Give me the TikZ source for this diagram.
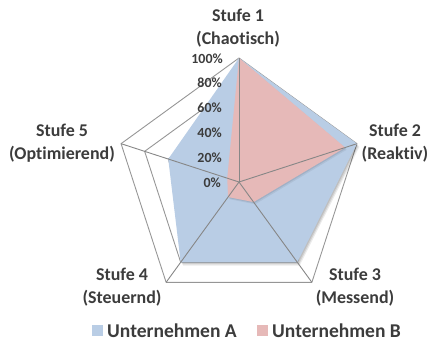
\documentclass[tikz,border=0pt]{standalone}
\usepackage{fontspec}
\setmainfont{Carlito}[Ligatures=NoCommon]
\definecolor{serA}{RGB}{185,205,229}
\definecolor{serB}{RGB}{230,185,184}
\definecolor{gridgray}{RGB}{150,150,150}
\definecolor{txt}{RGB}{60,60,60}
\begin{document}
\begin{tikzpicture}[x=1bp,y=-1bp,
  grid/.style={draw=gridgray, line width=0.9bp, line join=round},
  spoke/.style={draw=gridgray!90!black, line width=0.9bp},
  lab/.style={font=\bfseries\fontsize{18}{23}\selectfont, text=txt, align=center, inner sep=0pt},
  tick/.style={font=\bfseries\fontsize{14}{16}\selectfont, text=txt, anchor=east, inner sep=0pt},
  leg/.style={font=\bfseries\fontsize{19.6}{22}\selectfont, text=txt, anchor=west, inner sep=0pt}]
\useasboundingbox (0,0) rectangle (430,347);
\coordinate (O) at (239,182);
\begin{scope}[shift={(239,182)}]
  % grid pentagons
  \foreach \r in {24.8,49.6,74.4,99.2,124}{
    \draw[grid] (-90:\r) -- (-18:\r) -- (54:\r) -- (126:\r) -- (198:\r) -- cycle;
  }
  % series A shadow and fill
  \foreach \s/\o in {1/0.10,2/0.10,3/0.08}{
    \fill[black, opacity=\o, shift={(0.8*\s,1.1*\s)}]
      (-90:124) -- (-18:124) -- (54:99.2) -- (126:99.2) -- (198:74.4) -- cycle;
  }
  \fill[serA] (-90:124) -- (-18:124) -- (54:99.2) -- (126:99.2) -- (198:74.4) -- cycle;
  % series B shadow and fill
  \foreach \s/\o in {1/0.08,2/0.06}{
    \fill[black, opacity=\o, shift={(0.8*\s,1.1*\s)}]
      (-90:124) -- (-18:111.6) -- (54:24.8) -- (126:18.6) -- (198:12.4) -- cycle;
  }
  \fill[serB] (-90:124) -- (-18:111.6) -- (54:24.8) -- (126:18.6) -- (198:12.4) -- cycle;
  % spoke end points
  \foreach \a/\n in {-90/1,-18/2,54/3,126/4,198/5}{
    \coordinate (v\n) at (\a:124);
  }
\end{scope}
\foreach \n in {1,...,5}{ \draw[spoke] (O) -- (v\n); }
% tick labels
\node[tick] (t100) at (223,59) {100\%};
\node[tick] (t80) at (222,83.2) {80\%};
\node[tick] (t60) at (222,108) {60\%};
\node[tick] (t40) at (222,132.8) {40\%};
\node[tick] (t20) at (222,157.6) {20\%};
\node[tick] (t0) at (221,182.4) {0\%};
% category labels
\node[lab] (s1) at (238,28) {Stufe 1\\(Chaotisch)};
\node[lab] (s2) at (395,143) {Stufe 2\\(Reaktiv)};
\node[lab] (s3) at (355,287) {Stufe 3\\(Messend)};
\node[lab] (s4) at (122,287) {Stufe 4\\(Steuernd)};
\node[lab] (s5) at (62,143) {Stufe 5\\(Optimierend)};
% legend
\fill[serA] (92,325) rectangle (103,336);
\node[leg] (la) at (107,330.5) {Unternehmen A};
\fill[serB] (257,325) rectangle (268,336);
\node[leg] (lb) at (272,330.5) {Unternehmen B};
\end{tikzpicture}
\end{document}
